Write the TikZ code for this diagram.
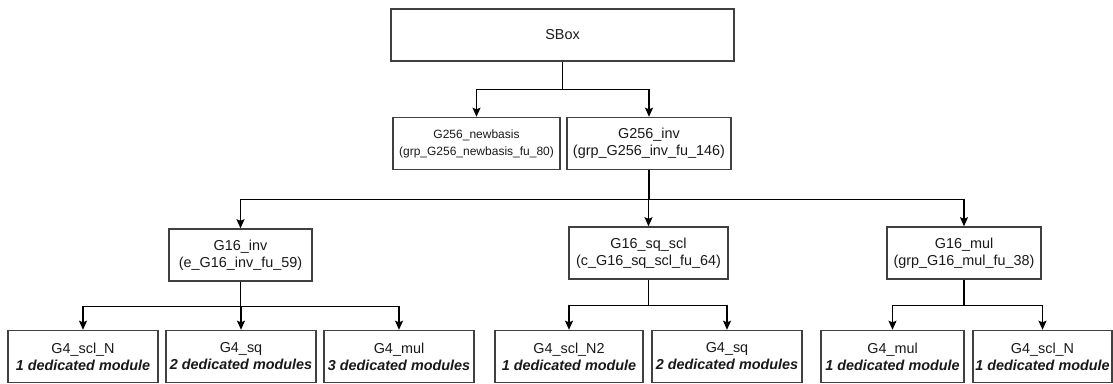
\documentclass[tikz,border=0pt]{standalone}
\usepackage{fontspec}
\setmainfont{Liberation Sans}
\usepackage{tikz}
\usetikzlibrary{arrows.meta, positioning}

\begin{document}
\begin{tikzpicture}[x=0.75pt, y=-0.75pt,
        block/.style={
                draw=black!75,
                line width=1.1pt,
                inner sep=0pt,
                minimum height=39pt,
                align=center,
                text=black!90,
                font=\fontsize{10.8pt}{12.8pt}\selectfont,
        },
        link/.style={
                draw=black,
                line width=0.9pt,
                -{Stealth[length=6.8pt, width=6pt, inset=1.2pt]},
        }]
            \useasboundingbox (0, 0) rectangle (1113, 383);

            \node[block, minimum width=257pt] (sbox) at (562.5, 35) {SBox};

            \node[block, minimum width=125pt, font=\fontsize{9pt}{12.8pt}\selectfont] (newbasis) at (476.5, 143.5) {G256\_newbasis\\(grp\_G256\_newbasis\_fu\_80)};
            \node[block, minimum width=123pt] (ginv) at (649, 143.5) {G256\_inv\\(grp\_G256\_inv\_fu\_146)};

            \node[block, minimum width=107pt] (inv) at (240.5, 255) {G16\_inv\\(e\_G16\_inv\_fu\_59)};
            \node[block, minimum width=119pt] (sqscl) at (648.5, 253) {G16\_sq\_scl\\(c\_G16\_sq\_scl\_fu\_64)};
            \node[block, minimum width=115.5pt] (mul) at (964, 253) {G16\_mul\\(grp\_G16\_mul\_fu\_38)};

            \node[block, minimum width=112.5pt] (invscl) at (83, 356.5) {G4\_scl\_N\\\textbf{\textit{1 dedicated module}}};
            \node[block, minimum width=112.5pt] (invsq) at (241, 356.5) {G4\_sq\\\textbf{\textit{2 dedicated modules}}};
            \node[block, minimum width=112.5pt] (invmul) at (399, 356.5) {G4\_mul\\\textbf{\textit{3 dedicated modules}}};
            \node[block, minimum width=111pt] (sqscln) at (569, 356.5) {G4\_scl\_N2\\\textbf{\textit{1 dedicated module}}};
            \node[block, minimum width=112.5pt] (sqsq) at (727, 356.5) {G4\_sq\\\textbf{\textit{2 dedicated modules}}};
            \node[block, minimum width=107pt] (mulmul) at (892.5, 356.5) {G4\_mul\\\textbf{\textit{1 dedicated module}}};
            \node[block, minimum width=104pt] (mulscl) at (1042.5, 356.5) {G4\_scl\_N\\\textbf{\textit{1 dedicated module}}};

            \draw[link] (sbox.south) -- ++(0, 28) -| (newbasis.north);
            \draw[link] (sbox.south) -- ++(0, 28) -| (ginv.north);

            \foreach \child in {inv, sqscl, mul}
                \draw[link] (ginv.south) -- ++(0, 29) -| (\child.north);

            \foreach \child in {invscl, invsq, invmul}
                \draw[link] (inv.south) -- ++(0, 25) -| (\child.north);
            \foreach \child in {sqscln, sqsq}
                \draw[link] (sqscl.south) -- ++(0, 26) -| (\child.north);
            \foreach \child in {mulmul, mulscl}
                \draw[link] (mul.south) -- ++(0, 26) -| (\child.north);
        \end{tikzpicture}
\end{document}
